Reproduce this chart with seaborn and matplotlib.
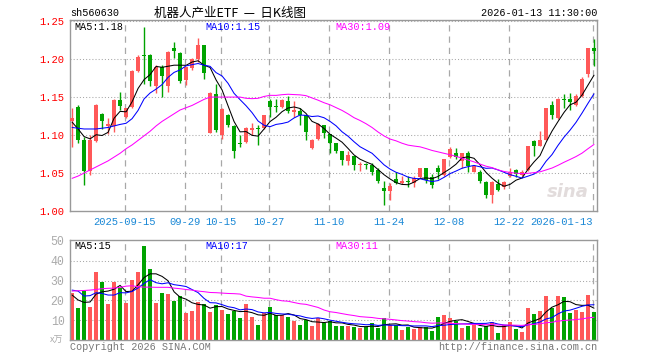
import numpy as np
import pandas as pd
import matplotlib
matplotlib.use("Agg")
import matplotlib.pyplot as plt
import seaborn as sns

# ---------------- data ----------------
open_ = [1.118, 1.137, 1.094, 1.053, 1.092, 1.128, 1.112, 1.112, 1.146, 1.124,
         1.137, 1.184, 1.206, 1.205, 1.164, 1.189, 1.165, 1.214, 1.208, 1.172,
         1.188, 1.200, 1.218, 1.103, 1.154, 1.100, 1.126, 1.112, 1.089, 1.091,
         1.106, 1.109, 1.109, 1.145, 1.138, 1.137, 1.145, 1.131, 1.132, 1.127,
         1.083, 1.095, 1.113, 1.101, 1.090, 1.079, 1.066, 1.073, 1.060, 1.062,
         1.060, 1.054, 1.030, 1.026, 1.042, 1.037, 1.039, 1.037, 1.045, 1.057,
         1.045, 1.057, 1.047, 1.071, 1.077, 1.066, 1.076, 1.052, 1.052, 1.038,
         1.021, 1.036, 1.032, 1.046, 1.054, 1.048, 1.054, 1.092, 1.086, 1.094,
         1.140, 1.122, 1.148, 1.147, 1.139, 1.152, 1.180, 1.214]
high = [1.135, 1.139, 1.097, 1.100, 1.141, 1.129, 1.123, 1.148, 1.157, 1.136,
        1.186, 1.206, 1.242, 1.207, 1.192, 1.192, 1.211, 1.222, 1.209, 1.190,
        1.201, 1.228, 1.219, 1.157, 1.167, 1.135, 1.128, 1.113, 1.100, 1.110,
        1.116, 1.113, 1.127, 1.148, 1.147, 1.147, 1.152, 1.145, 1.135, 1.127,
        1.095, 1.116, 1.113, 1.101, 1.090, 1.079, 1.079, 1.073, 1.064, 1.063,
        1.063, 1.057, 1.039, 1.037, 1.051, 1.046, 1.046, 1.046, 1.057, 1.057,
        1.049, 1.060, 1.069, 1.084, 1.083, 1.077, 1.079, 1.060, 1.054, 1.039,
        1.039, 1.042, 1.040, 1.056, 1.055, 1.054, 1.086, 1.093, 1.105, 1.135,
        1.145, 1.149, 1.154, 1.155, 1.154, 1.176, 1.214, 1.227]
low = [1.084, 1.090, 1.034, 1.047, 1.091, 1.108, 1.101, 1.104, 1.133, 1.123,
       1.135, 1.183, 1.167, 1.164, 1.156, 1.150, 1.157, 1.202, 1.169, 1.166,
       1.186, 1.196, 1.174, 1.103, 1.104, 1.095, 1.110, 1.070, 1.084, 1.090,
       1.100, 1.087, 1.108, 1.124, 1.130, 1.135, 1.129, 1.124, 1.113, 1.093,
       1.081, 1.094, 1.096, 1.077, 1.077, 1.060, 1.060, 1.054, 1.053, 1.055,
       1.047, 1.037, 1.008, 1.015, 1.035, 1.035, 1.031, 1.031, 1.044, 1.037,
       1.030, 1.042, 1.046, 1.070, 1.069, 1.057, 1.051, 1.051, 1.037, 1.017,
       1.011, 1.026, 1.029, 1.045, 1.045, 1.046, 1.053, 1.073, 1.085, 1.093,
       1.121, 1.121, 1.135, 1.133, 1.138, 1.150, 1.177, 1.191]
close = [1.123, 1.094, 1.053, 1.093, 1.139, 1.118, 1.115, 1.146, 1.138, 1.136,
         1.184, 1.203, 1.204, 1.171, 1.190, 1.178, 1.210, 1.211, 1.171, 1.189,
         1.200, 1.218, 1.182, 1.156, 1.107, 1.134, 1.113, 1.079, 1.088, 1.109,
         1.109, 1.108, 1.126, 1.137, 1.137, 1.146, 1.132, 1.133, 1.127, 1.104,
         1.094, 1.115, 1.103, 1.089, 1.079, 1.067, 1.074, 1.060, 1.061, 1.061,
         1.051, 1.040, 1.026, 1.033, 1.037, 1.039, 1.038, 1.043, 1.057, 1.041,
         1.034, 1.052, 1.069, 1.082, 1.071, 1.076, 1.059, 1.059, 1.039, 1.021,
         1.038, 1.027, 1.038, 1.051, 1.049, 1.052, 1.085, 1.086, 1.093, 1.135,
         1.127, 1.148, 1.146, 1.143, 1.152, 1.174, 1.214, 1.211]
volume = [23.5, 16.3, 24.7, 16.8, 34.5, 29.4, 18.2, 29.4, 26.4, 18.8,
          30.4, 34.5, 47.6, 35.8, 18.8, 23.9, 23.4, 19.8, 22.2, 13.8,
          14.8, 19.3, 18.2, 14.3, 17.6, 15.1, 13.1, 14.6, 11.3, 18.2,
          11.8, 7.6, 13.4, 16.6, 12.6, 12.4, 11.8, 9.7, 7.6, 9.9,
          7.2, 10.9, 8.4, 9.7, 7.1, 7.1, 7.1, 6.7, 6.1, 6.7,
          8.4, 6.2, 11.1, 7.6, 7.6, 5.0, 6.7, 5.5, 6.4, 6.7,
          4.7, 11.6, 12.6, 11.3, 9.6, 6.2, 7.1, 7.6, 6.2, 7.1,
          9.2, 3.7, 7.6, 9.2, 5.7, 4.2, 16.3, 13.1, 14.8, 22.4,
          16.3, 22.4, 21.8, 13.8, 15.1, 14.3, 22.9, 14.3]

# moving-average values at the left edge (need history before the window)
ma5_head = [1.117, 1.108, 1.098, 1.095]
ma10_head = [1.110, 1.109, 1.108, 1.108, 1.108, 1.109, 1.110, 1.112, 1.114]
ma30_head = [1.043, 1.046, 1.050, 1.054, 1.058, 1.062, 1.066, 1.071, 1.076, 1.082,
             1.087, 1.093, 1.099, 1.105, 1.112, 1.118, 1.123, 1.128, 1.133, 1.136,
             1.139, 1.143, 1.147, 1.150, 1.150, 1.150, 1.150, 1.150, 1.150]
vol_ma5_head = [22.7, 20.2, 19.0, 19.2]
vol_ma10_head = [25.2, 24.7, 22.2, 22.4, 23.9, 23.5, 22.7, 22.7, 23.9]
vol_ma30_head = [24.7, 24.9, 25.0, 25.2, 25.5, 25.9, 26.1, 26.2, 26.6, 27.2,
                 27.4, 26.9, 26.7, 26.7, 26.6, 26.6, 26.6, 26.2, 25.9, 25.5,
                 25.2, 24.7, 24.4, 24.0, 23.9, 23.7, 23.5, 23.4, 23.2]

start_date, end_date = "2025-09-02", "2026-01-13"
holidays = ["2025-10-01", "2025-10-02", "2025-10-03", "2025-10-06", "2025-10-07",
            "2025-10-08", "2026-01-01", "2026-01-02"]
tick_dates = ["2025-09-15", "2025-09-29", "2025-10-15", "2025-10-27", "2025-11-10",
              "2025-11-24", "2025-12-08", "2025-12-22", "2026-01-13"]
tick_labels = ["2025-09-15", "09-29", "10-15", "10-27", "11-10",
               "11-24", "12-08", "12-22", "2026-01-13"]
price_ticks = [1.00, 1.05, 1.10, 1.15, 1.20, 1.25]
vol_ticks = [10, 20, 30, 40, 50]

code = "sh560630"
title = "机器人产业ETF  —  日K线图"
stamp = "2026-01-13 11:30:00"
price_legend = ["MA5:1.18", "MA10:1.15", "MA30:1.09"]
vol_legend = ["MA5:15", "MA10:17", "MA30:11"]

# ---------------- style ----------------
sns.set_theme(style="white")
plt.rcParams["font.family"] = ["Liberation Mono", "Noto Sans CJK SC", "DejaVu Sans"]

RED = "#ff5858"
GREEN = "#00a300"
GRID = "#a8a8a8"
SPINE = "#999999"
MA_COLORS = ["black", "#0000ff", "#ff00ff"]
FS = 7.3
LW = 0.75

dates = pd.bdate_range(start_date, end_date)
dates = dates[~dates.isin(pd.to_datetime(holidays))]
idx = np.arange(len(close))
date_str = [d.strftime("%Y-%m-%d") for d in dates]
tick_pos = np.array([date_str.index(d) for d in tick_dates]) - 0.25


def moving_avg(vals, n, head):
    s = pd.Series(vals, dtype=float).rolling(n).mean()
    s.iloc[: n - 1] = head
    return s.values


o = np.array(open_); h = np.array(high); l = np.array(low); c = np.array(close)
up = c >= o
colors = np.where(up, RED, GREEN)

W, H = 660, 360
fig = plt.figure(figsize=(W / 100, H / 100), dpi=100)
ax = fig.add_axes([70 / W, 1 - 211 / H, 527 / W, 191 / H])
axv = fig.add_axes([70 / W, 1 - 340 / H, 527 / W, 100 / H])

XL = (-0.35, len(close) - 0.5)

# ---------------- price panel ----------------
for yv in price_ticks[1:]:
    ax.axhline(yv, color=GRID, lw=0.75, ls=(0, (1, 2)), zorder=0)
for xp in tick_pos:
    ax.axvline(xp, color=GRID, lw=0.9, ls=(0, (5, 4)), zorder=0)

ax.vlines(idx, l, h, colors=colors, lw=1.0, zorder=2)
body = np.maximum(np.abs(c - o), 0.0014)
ax.bar(idx, body, bottom=np.minimum(o, c), width=0.8, color=colors, lw=0, zorder=3)

pdf = pd.DataFrame({"i": idx,
                    "MA5": moving_avg(close, 5, ma5_head),
                    "MA10": moving_avg(close, 10, ma10_head),
                    "MA30": moving_avg(close, 30, ma30_head)})
for name, col in zip(["MA5", "MA10", "MA30"], MA_COLORS):
    sns.lineplot(data=pdf, x="i", y=name, color=col, lw=LW, estimator=None, ax=ax, zorder=4)

ax.set_xlim(*XL)
ax.set_ylim(1.0, 1.2515)
ax.set_yticks(price_ticks)
ax.set_yticklabels([f"{t:.2f}" for t in price_ticks], color="#ff0000", fontsize=FS + 0.3)
ax.set_xticks(tick_pos)
ax.set_xticklabels(tick_labels, color="#1a88d6", fontsize=FS + 0.3)
ax.get_xticklabels()[-1].set_ha("right")
ax.tick_params(axis="both", length=0, pad=4)
ax.set_xlabel(""); ax.set_ylabel("")
for sp in ax.spines.values():
    sp.set_color(SPINE); sp.set_linewidth(1.0)

# watermark
ax.text(0.985, 0.1, "sina", transform=ax.transAxes, ha="right", va="center",
        fontsize=13, fontweight="bold", style="italic", color="#e2dcdc",
        family="DejaVu Sans", zorder=1)

# ---------------- volume panel ----------------
for yv in vol_ticks[:-1]:
    axv.axhline(yv, color=GRID, lw=0.75, ls=(0, (1, 2)), zorder=0)
for xp in tick_pos:
    axv.axvline(xp, color=GRID, lw=0.9, ls=(0, (5, 4)), zorder=0)

vdf = pd.DataFrame({"i": idx, "vol": volume, "dir": np.where(up, "up", "down")})
sns.barplot(data=vdf, x="i", y="vol", hue="dir", palette={"up": RED, "down": GREEN},
            native_scale=True, dodge=False, width=0.8, saturation=1, errorbar=None,
            legend=False, linewidth=0, ax=axv, zorder=2)

vma = pd.DataFrame({"i": idx,
                    "MA5": moving_avg(volume, 5, vol_ma5_head),
                    "MA10": moving_avg(volume, 10, vol_ma10_head),
                    "MA30": moving_avg(volume, 30, vol_ma30_head)})
for name, col in zip(["MA5", "MA10", "MA30"], MA_COLORS):
    sns.lineplot(data=vma, x="i", y=name, color=col, lw=LW, estimator=None, ax=axv, zorder=4)

axv.set_xlim(*XL)
axv.set_ylim(0, 50.5)
axv.set_yticks(vol_ticks)
axv.set_yticklabels([str(t) for t in vol_ticks], color="#aaaaaa", fontsize=FS + 1)
axv.set_xticks([])
axv.tick_params(axis="both", length=0, pad=4)
axv.set_xlabel(""); axv.set_ylabel("")
for sp in axv.spines.values():
    sp.set_color(SPINE); sp.set_linewidth(1.0)
axv.text(-0.012, 0.0, "x万", transform=axv.transAxes, ha="right", va="center",
         fontsize=6.5, color="#aaaaaa", family=["Noto Sans CJK SC", "DejaVu Sans"])

# ---------------- texts ----------------
def ftext(x, y, s, **kw):
    fig.text(x / W, 1 - y / H, s, **kw)

ftext(70, 13, code, ha="left", va="center", fontsize=FS, color="black")
ftext(230, 13, title, ha="center", va="center", fontsize=9, color="black",
      family=["Noto Sans CJK SC", "DejaVu Sans"])
ftext(597, 13, stamp, ha="right", va="center", fontsize=FS, color="black")

for s, xx, col in zip(price_legend, [74, 205, 335], MA_COLORS):
    ftext(xx, 27, s, ha="left", va="center", fontsize=FS, color=col)
for s, xx, col in zip(vol_legend, [74, 205, 335], MA_COLORS):
    ftext(xx, 246, s, ha="left", va="center", fontsize=FS, color=col)

ftext(70, 347, "Copyright 2026 SINA.COM", ha="left", va="center", fontsize=FS, color="#777777")
ftext(597, 347, "http://finance.sina.com.cn", ha="right", va="center", fontsize=FS, color="#777777")

fig.savefig("out.png", dpi=100)
